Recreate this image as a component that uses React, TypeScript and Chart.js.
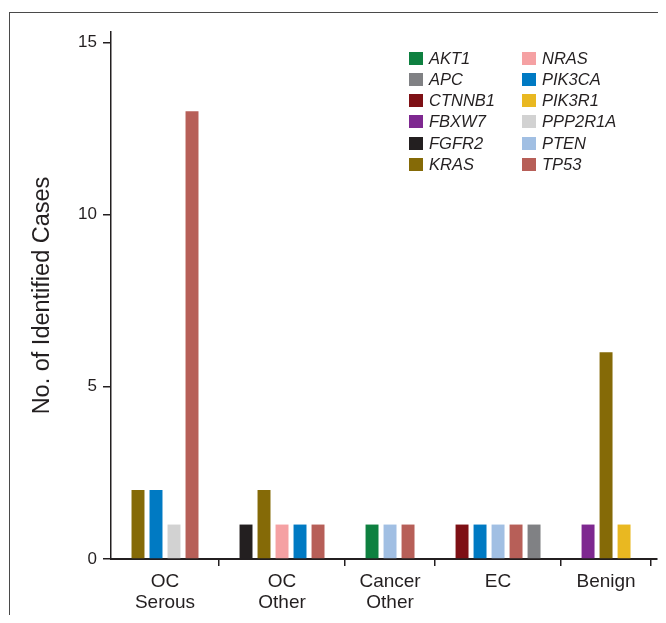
import React, { useEffect, useRef } from "react";
import { Chart, registerables } from "chart.js";

Chart.register(...registerables);

const categories = ["OC Serous", "OC Other", "Cancer Other", "EC", "Benign"];
const categoryLabels: string[][] = [["OC", "Serous"], ["OC", "Other"], ["Cancer", "Other"], ["EC"], ["Benign"]];

const genes = ["AKT1", "APC", "CTNNB1", "FBXW7", "FGFR2", "KRAS", "NRAS", "PIK3CA", "PIK3R1", "PPP2R1A", "PTEN", "TP53"];
const geneColors = ["#0e8040", "#808184", "#7e1015", "#7e2890", "#231f20", "#856a07", "#f5a1a3", "#007ac3", "#e9b821", "#d2d2d2", "#a1bfe3", "#b75f58"];

const ocSerousGenes = ["KRAS", "PIK3CA", "PPP2R1A", "TP53"];
const ocSerousCounts = [2, 2, 1, 13];
const ocOtherGenes = ["FGFR2", "KRAS", "NRAS", "PIK3CA", "TP53"];
const ocOtherCounts = [1, 2, 1, 1, 1];
const cancerOtherGenes = ["AKT1", "PTEN", "TP53"];
const cancerOtherCounts = [1, 1, 1];
const ecGenes = ["CTNNB1", "PIK3CA", "PTEN", "TP53", "APC"];
const ecCounts = [1, 1, 1, 1, 1];
const benignGenes = ["FBXW7", "KRAS", "PIK3R1"];
const benignCounts = [1, 6, 1];

const yTicks = [0, 5, 10, 15];

const groupGenes = [ocSerousGenes, ocOtherGenes, cancerOtherGenes, ecGenes, benignGenes];
const groupCounts = [ocSerousCounts, ocOtherCounts, cancerOtherCounts, ecCounts, benignCounts];

const TEXT = "#231f20";
const FONT = "'Liberation Sans', Arial, Helvetica, sans-serif";

function buildLayout() {
  // one slot per bar, one empty slot at the start, two between groups
  const points: { x: number; y: number }[][] = genes.map(() => []);
  const centers: number[] = [];
  const boundaries: number[] = [];
  let slot = 1;
  groupGenes.forEach((g, gi) => {
    const start = slot;
    g.forEach((gene, i) => {
      const idx = genes.indexOf(gene);
      points[idx].push({ x: slot, y: groupCounts[gi][i] });
      slot++;
    });
    centers.push((start + slot - 1) / 2);
    boundaries.push(slot + 0.5);
    slot += 2;
  });
  return { points, centers, boundaries };
}

export default function App() {
  const canvasRef = useRef<HTMLCanvasElement | null>(null);

  useEffect(() => {
    const { points, centers, boundaries } = buildLayout();
    const labelAt = new Map<number, string[]>();
    centers.forEach((c, i) => labelAt.set(c, categoryLabels[i]));
    const boundarySet = new Set<number>(boundaries);
    const xTicks = [...centers, ...boundaries].sort((a, b) => a - b);

    Chart.defaults.font.family = FONT;
    const titleSize = 23.5;

    const chart = new Chart(canvasRef.current as HTMLCanvasElement, {
      type: "bar",
      data: {
        datasets: genes.map((gene, i) => ({
          label: gene,
          data: points[i],
          backgroundColor: geneColors[i],
          borderWidth: 0,
          grouped: false,
          barPercentage: 0.72,
          categoryPercentage: 1,
        })),
      },
      options: {
        animation: false,
        responsive: false,
        events: [],
        layout: { padding: { top: 24, right: 1, left: 0, bottom: 0 } },
        plugins: { legend: { display: false }, tooltip: { enabled: false } },
        scales: {
          x: {
            type: "linear",
            min: -0.5,
            max: 29.83,
            offset: false,
            afterBuildTicks: (scale: any) => {
              scale.ticks = xTicks.map((v) => ({ value: v }));
            },
            afterFit: (scale: any) => {
              scale.height = 56;
            },
            grid: {
              offset: false,
              drawOnChartArea: false,
              drawTicks: true,
              tickLength: 7,
              lineWidth: 1.5,
              color: (ctx: any) => (ctx.tick && boundarySet.has(ctx.tick.value) ? TEXT : "rgba(0,0,0,0)"),
            },
            border: { display: true, color: TEXT, width: 2 },
            ticks: {
              autoSkip: false,
              maxRotation: 0,
              minRotation: 0,
              padding: 5,
              color: TEXT,
              font: { size: 19, lineHeight: 1.1 },
              callback: (value: any) => labelAt.get(Number(value)) ?? "",
            },
          },
          y: {
            min: 0,
            max: 15.3,
            afterBuildTicks: (scale: any) => {
              scale.ticks = yTicks.map((v) => ({ value: v }));
            },
            afterFit: (scale: any) => {
              scale.width = 103;
            },
            grid: {
              drawOnChartArea: false,
              drawTicks: true,
              tickLength: 8,
              lineWidth: 1.5,
              color: TEXT,
            },
            border: { display: true, color: TEXT, width: 1.5 },
            ticks: {
              padding: 6,
              color: TEXT,
              font: { size: 17 },
            },
            title: {
              display: true,
              text: "No. of Identified Cases",
              color: TEXT,
              font: { size: titleSize },
              padding: { top: 35 - (titleSize * 1.2) / 2, bottom: 0 },
            },
          },
        },
      },
    } as any);
    return () => chart.destroy();
  }, []);

  return (
    <div style={{ position: "relative", width: 650, height: 607, fontFamily: FONT }}>
      <div
        style={{
          position: "absolute",
          left: 1,
          top: 4,
          right: -8,
          bottom: 0,
          borderTop: "1px solid #4a4a4a",
          borderLeft: "1px solid #4a4a4a",
        }}
      />
      <canvas ref={canvasRef} width={650} height={607} style={{ position: "absolute", left: 0, top: 0 }} />
      <div
        style={{
          position: "absolute",
          left: 401,
          top: 39.8,
          display: "grid",
          gridTemplateRows: "repeat(6, 21.2px)",
          gridTemplateColumns: "113px 120px",
          gridAutoFlow: "column",
        }}
      >
        {genes.map((g, i) => (
          <div key={g} style={{ display: "flex", alignItems: "center" }}>
            <span
              style={{
                display: "inline-block",
                width: 14,
                height: 13,
                background: geneColors[i],
                marginRight: 6,
                flex: "none",
              }}
            />
            <span style={{ fontStyle: "italic", fontSize: 16.5, color: TEXT, lineHeight: "21px" }}>{g}</span>
          </div>
        ))}
      </div>
    </div>
  );
}
